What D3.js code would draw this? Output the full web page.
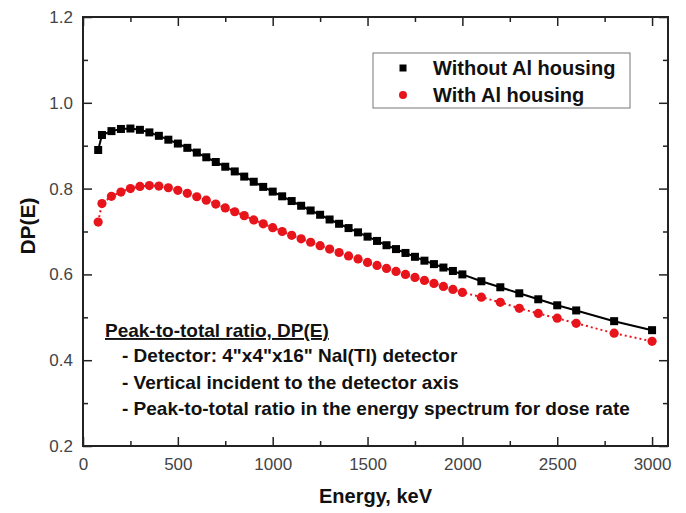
<!DOCTYPE html>
<html>
<head>
<meta charset="utf-8">
<script src="https://cdn.jsdelivr.net/npm/d3@7"></script>
<style>
  body { margin: 0; background: #fff; }
  text { font-family: Arial, 'Liberation Sans', sans-serif; }
</style>
</head>
<body>
<div id="graph"></div>
<script>
var energy = [80, 100, 150, 200, 250, 300, 350, 400, 450, 500, 550, 600, 650, 700, 750, 800,
  850, 900, 950, 1000, 1050, 1100, 1150, 1200, 1250, 1300, 1350, 1400, 1450, 1500, 1550,
  1600, 1650, 1700, 1750, 1800, 1850, 1900, 1950, 2000, 2100, 2200, 2300, 2400, 2500,
  2600, 2800, 3000]

var withoutAl = [0.890, 0.925, 0.934, 0.939, 0.940, 0.937, 0.931, 0.923, 0.914, 0.905, 0.895,
  0.884, 0.873, 0.862, 0.851, 0.840, 0.828, 0.816, 0.804, 0.793, 0.782, 0.771, 0.760, 0.749,
  0.739, 0.728, 0.718, 0.708, 0.698, 0.688, 0.678, 0.668, 0.659, 0.650, 0.641, 0.632, 0.624,
  0.616, 0.608, 0.600, 0.584, 0.570, 0.556, 0.542, 0.528, 0.516, 0.491, 0.470]

var withAl = [0.722, 0.765, 0.782, 0.792, 0.800, 0.805, 0.807, 0.806, 0.802, 0.796, 0.789,
  0.781, 0.773, 0.764, 0.755, 0.746, 0.737, 0.727, 0.718, 0.709, 0.700, 0.691, 0.683, 0.675,
  0.667, 0.659, 0.651, 0.643, 0.636, 0.628, 0.621, 0.614, 0.607, 0.600, 0.593, 0.586, 0.579,
  0.572, 0.565, 0.558, 0.547, 0.535, 0.521, 0.509, 0.498, 0.486, 0.463, 0.444]

var xTicks = [0, 500, 1000, 1500, 2000, 2500, 3000]
var xMinor = [250, 750, 1250, 1750, 2250, 2750]
var yTicks = [0.2, 0.4, 0.6, 0.8, 1.0, 1.2]
var yMinor = [0.3, 0.5, 0.7, 0.9, 1.1]

var seriesNames = ['Without Al housing', 'With Al housing']
var notes = [
  '- Detector: 4"x4"x16" NaI(Tl) detector',
  '- Vertical incident to the detector axis',
  '- Peak-to-total ratio in the energy spectrum for dose rate',
]

var W = 686, H = 513
var pL = 83, pR = 668, pT = 17, pB = 446

var svg = d3
  .select('#graph')
  .append('svg')
  .attr('width', W)
  .attr('height', H)

var x = d3.scaleLinear().domain([0, 3084]).range([pL, pR])
var y = d3.scaleLinear().domain([0.2, 1.2]).range([pB, pT])

function styleAxis(g) {
  g.select('.domain').remove()
  g.selectAll('line').attr('stroke', '#222').attr('stroke-width', 1.5)
  g.selectAll('text')
    .attr('fill', '#444')
    .style('font-size', '17px')
}

// minor ticks first, then major
svg.append('g')
  .attr('transform', 'translate(0,' + pB + ')')
  .call(d3.axisBottom(x).tickValues(xMinor).tickSize(-5).tickFormat(''))
  .call(styleAxis)
svg.append('g')
  .attr('transform', 'translate(0,' + pB + ')')
  .call(d3.axisBottom(x).tickValues(xTicks).tickSize(-9).tickPadding(12).tickFormat(d3.format('d')))
  .call(styleAxis)
svg.append('g')
  .attr('transform', 'translate(0,' + pT + ')')
  .call(d3.axisTop(x).tickValues(xMinor).tickSize(-5).tickFormat(''))
  .call(styleAxis)
svg.append('g')
  .attr('transform', 'translate(0,' + pT + ')')
  .call(d3.axisTop(x).tickValues(xTicks).tickSize(-9).tickFormat(''))
  .call(styleAxis)

svg.append('g')
  .attr('transform', 'translate(' + pL + ',0)')
  .call(d3.axisLeft(y).tickValues(yMinor).tickSize(-5).tickFormat(''))
  .call(styleAxis)
svg.append('g')
  .attr('transform', 'translate(' + pL + ',0)')
  .call(d3.axisLeft(y).tickValues(yTicks).tickSize(-9).tickPadding(10).tickFormat(d3.format('.1f')))
  .call(styleAxis)
svg.append('g')
  .attr('transform', 'translate(' + pR + ',0)')
  .call(d3.axisRight(y).tickValues(yMinor).tickSize(-5).tickFormat(''))
  .call(styleAxis)
svg.append('g')
  .attr('transform', 'translate(' + pR + ',0)')
  .call(d3.axisRight(y).tickValues(yTicks).tickSize(-9).tickFormat(''))
  .call(styleAxis)

svg.append('rect')
  .attr('x', pL)
  .attr('y', pT)
  .attr('width', pR - pL)
  .attr('height', pB - pT)
  .attr('fill', 'none')
  .attr('stroke', '#222')
  .attr('stroke-width', 2)

var line = d3.line()
  .x((d, i) => x(energy[i]))
  .y(d => y(d))

svg.append('path')
  .datum(withoutAl)
  .attr('d', line)
  .attr('fill', 'none')
  .attr('stroke', '#000')
  .attr('stroke-width', 2)

svg.append('path')
  .datum(withAl)
  .attr('d', line)
  .attr('fill', 'none')
  .attr('stroke', '#e8141c')
  .attr('stroke-width', 2)
  .attr('stroke-dasharray', '2,3')

svg.append('g')
  .selectAll('rect')
  .data(withoutAl)
  .join('rect')
  .attr('x', (d, i) => x(energy[i]) - 4)
  .attr('y', d => y(d) - 4)
  .attr('width', 8)
  .attr('height', 8)
  .attr('fill', '#000')

svg.append('g')
  .selectAll('circle')
  .data(withAl)
  .join('circle')
  .attr('cx', (d, i) => x(energy[i]))
  .attr('cy', d => y(d))
  .attr('r', 4.6)
  .attr('fill', '#e8141c')

// legend
var lg = svg.append('g').attr('transform', 'translate(373,53)')
lg.append('rect')
  .attr('width', 257)
  .attr('height', 55)
  .attr('fill', '#fff')
  .attr('stroke', '#777')
  .attr('stroke-width', 1)
lg.append('rect').attr('x', 26.5).attr('y', 11.5).attr('width', 7).attr('height', 7).attr('fill', '#000')
lg.append('circle').attr('cx', 30).attr('cy', 42).attr('r', 4).attr('fill', '#e8141c')
lg.selectAll('text.item')
  .data(seriesNames)
  .join('text')
  .attr('class', 'item')
  .attr('x', 60)
  .attr('y', (d, i) => 22 + i * 27)
  .style('font-size', '20px')
  .style('font-weight', 'bold')
  .attr('fill', '#111')
  .text(d => d)

// annotation
svg.append('text')
  .attr('x', 105)
  .attr('y', 337)
  .style('font-size', '19px')
  .style('font-weight', 'bold')
  .style('text-decoration', 'underline')
  .attr('fill', '#111')
  .text('Peak-to-total ratio, DP(E)')
svg.selectAll('text.note')
  .data(notes)
  .join('text')
  .attr('class', 'note')
  .attr('x', 122)
  .attr('y', (d, i) => 362 + i * 26.5)
  .style('font-size', '19px')
  .style('font-weight', 'bold')
  .attr('fill', '#111')
  .text(d => d)

// axis titles
svg.append('text')
  .attr('x', (pL + pR) / 2)
  .attr('y', 503)
  .attr('text-anchor', 'middle')
  .style('font-size', '20px')
  .style('font-weight', 'bold')
  .attr('fill', '#111')
  .text('Energy, keV')

svg.append('text')
  .attr('transform', 'translate(35,226) rotate(-90)')
  .attr('text-anchor', 'middle')
  .style('font-size', '21px')
  .style('font-weight', 'bold')
  .attr('fill', '#111')
  .text('DP(E)')
</script>
</body>
</html>
